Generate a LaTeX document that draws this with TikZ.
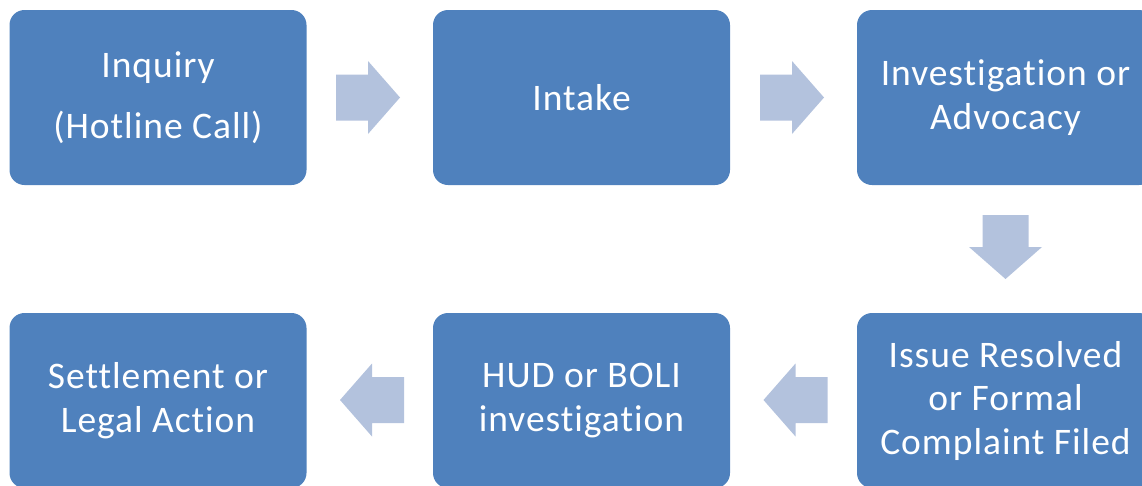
\documentclass[tikz,border=0pt]{standalone}
\usepackage{fontspec}
\setmainfont{Carlito}[Ligatures=NoCommon,LetterSpace=2.6]
\definecolor{boxblue}{HTML}{4F81BD}
\definecolor{arrowblue}{HTML}{B3C2DD}
\begin{document}
\begin{tikzpicture}[x=1pt,y=-1pt,
  stage/.style={fill=boxblue, rounded corners=15pt, minimum width=297pt, minimum height=175pt,
    inner sep=0pt, text=white, align=center, font=\fontsize{37.5}{43.5}\selectfont},
  blockarrow/.pic={\fill[arrowblue] (-32,-23) -- (0,-23) -- (0,-36.5) -- (32,0) -- (0,36.5) -- (0,23) -- (-32,23) -- cycle;}
]
\useasboundingbox (0,0) rectangle (1142,485);
\clip (0,0) rectangle (1142,485);
\node[stage] (inq) at (158,97.5) {Inquiry\\[17pt](Hotline Call)};
\node[stage] (intake) at (581.5,97.5) {Intake};
\node[stage] (inv) at (1005.5,97.5) {Investigation or\\Advocacy};
\node[stage] (settle) at (158,400.5) {Settlement or\\Legal Action};
\node[stage] (hud) at (581.5,400.5) {HUD or BOLI\\investigation};
\node[stage] (issue) at (1005.5,400.5) {Issue Resolved\\or Formal\\Complaint Filed};
\pic at (368,97.5) {blockarrow};
\pic at (792,97.5) {blockarrow};
\pic[rotate=-90] at (1005.5,247) {blockarrow};
\pic[rotate=180] at (795.5,400) {blockarrow};
\pic[rotate=180] at (372,400) {blockarrow};
\end{tikzpicture}
\end{document}
